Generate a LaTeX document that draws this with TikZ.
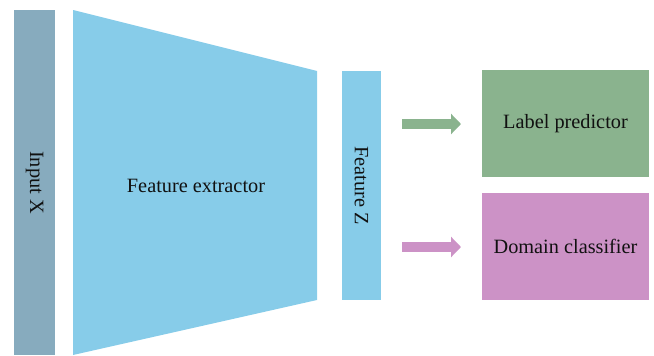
\documentclass[tikz,border=0pt]{standalone}
\usepackage{fontspec}
\setmainfont{Liberation Serif}
\usetikzlibrary{arrows.meta}
\definecolor{inputc}{HTML}{87ABBE}
\definecolor{featc}{HTML}{87CCE9}
\definecolor{greenc}{HTML}{8AB38E}
\definecolor{pinkc}{HTML}{CC92C6}
\definecolor{txtc}{HTML}{111111}
\begin{document}
\begin{tikzpicture}[x=1pt,y=-1pt,
  lbl/.style={text=txtc,font=\fontsize{20.3}{24}\selectfont,inner sep=0pt},
  bar/.style={inner sep=0pt,outer sep=0pt},
  flowarrow/.style={line width=10pt,-{Triangle[length=10pt,width=20pt]}}]
\useasboundingbox (0,0) rectangle (654,356);
% Input X
\node[bar,fill=inputc,minimum width=41pt,minimum height=345pt,anchor=north west] (inx) at (14,10) {};
\node[lbl,rotate=-90] (inxt) at (inx.center) {Input X};
% Feature extractor trapezoid
\fill[featc] (73,10) -- (317,71) -- (317,300) -- (73,355) -- cycle;
\node[lbl] (fe) at (196,186) {Feature extractor};
% Feature Z
\node[bar,fill=featc,minimum width=39pt,minimum height=229pt,anchor=north west] (fz) at (342,71) {};
\node[lbl,rotate=-90] (fzt) at (fz.center) {Feature Z};
% Right boxes
\node[bar,fill=greenc,minimum width=167pt,minimum height=107pt,anchor=north west] (lp) at (482,70) {};
\node[lbl] at (lp.center) {Label predictor};
\node[bar,fill=pinkc,minimum width=167pt,minimum height=107pt,anchor=north west] (dc) at (482,193) {};
\node[lbl] at (dc.center) {Domain classifier};
% Arrows
\coordinate (g1) at (402,124);
\coordinate (g2) at (461,124);
\coordinate (p1) at (402,247);
\coordinate (p2) at (461,247);
\draw[flowarrow,greenc] (g1) -- (g2);
\draw[flowarrow,pinkc] (p1) -- (p2);
\end{tikzpicture}
\end{document}
